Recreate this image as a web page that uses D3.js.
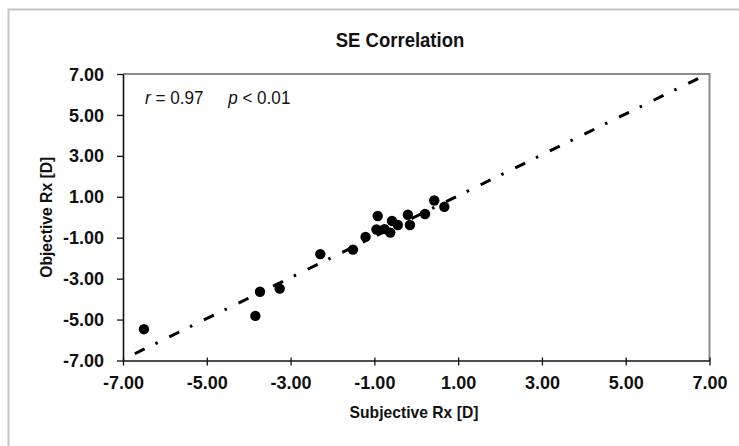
<!DOCTYPE html>
<html>
<head>
<meta charset="utf-8">
<script src="https://cdn.jsdelivr.net/npm/d3@7"></script>
<style>
  html, body { margin: 0; padding: 0; background: #fff; }
  svg { display: block; }
  text { font-family: "Liberation Sans", Arial, sans-serif; fill: #111; }
</style>
</head>
<body>
<svg id="chart" width="739" height="446"></svg>
<script>
// Subjective vs objective spherical equivalent refraction, dioptres
const subjectiveRx = [-6.50, -3.84, -3.73, -3.26, -2.29, -1.51, -1.21, -0.92, -0.95, -0.76, -0.58, -0.62, -0.44, -0.20, -0.15, 0.21, 0.43, 0.67];
const objectiveRx  = [-5.47, -4.82, -3.64, -3.49, -1.80, -1.58, -0.96, 0.06, -0.60, -0.58, -0.18, -0.75, -0.38, 0.12, -0.38, 0.16, 0.82, 0.51];

// Fitted line endpoints (x) and its coefficients
const fitX = [-6.72, 6.86];
const fitSlope = 1.0;
const fitIntercept = 0.05;

const tickValues = [-7, -5, -3, -1, 1, 3, 5, 7];
const titleText = "SE Correlation";
const xTitle = "Subjective Rx [D]";
const yTitle = "Objective Rx [D]";

// slight horizontal squeeze for a narrower typeface look
const SQUEEZE = 0.95;

const svg = d3.select("#chart");
const plot = { left: 123, top: 74, width: 586.5, height: 286.5 };

// outer chart frame
svg.append("rect")
  .attr("x", 8.5).attr("y", 9.5)
  .attr("width", 760).attr("height", 460)
  .attr("fill", "#fff").attr("stroke", "#c4c4c4").attr("stroke-width", 2);

const x = d3.scaleLinear().domain([-7, 7]).range([plot.left, plot.left + plot.width]);
const y = d3.scaleLinear().domain([-7, 7]).range([plot.top + plot.height, plot.top]);

// plot area border (top / right)
svg.append("path")
  .attr("d", `M${x(-7)},${y(7)}H${x(7)}V${y(-7)}`)
  .attr("fill", "none").attr("stroke", "#8a8a8a").attr("stroke-width", 2);

const fmt = d3.formatLocale({ decimal: ".", thousands: ",", grouping: [3], currency: ["", ""], minus: "-" }).format(".2f");

const xAxis = svg.append("g")
  .attr("transform", `translate(0,${y(-7)})`)
  .call(d3.axisBottom(x).tickValues(tickValues).tickFormat(fmt).tickSizeInner(5).tickSizeOuter(0).tickPadding(10));
const yAxis = svg.append("g")
  .attr("transform", `translate(${x(-7)},0)`)
  .call(d3.axisLeft(y).tickValues(tickValues).tickFormat(fmt).tickSizeInner(6).tickSizeOuter(0).tickPadding(6));

[xAxis, yAxis].forEach(g => {
  g.select(".domain").attr("stroke", "#111").attr("stroke-width", 1.6);
  g.selectAll(".tick line").attr("stroke", "#111").attr("stroke-width", 1.3);
  g.selectAll(".tick text")
    .attr("font-size", 19).attr("font-weight", "bold")
    .attr("font-family", "'Liberation Sans', Arial, sans-serif")
    .attr("fill", "#1a1a1a")
    .attr("transform", `scale(${SQUEEZE},1)`);
});
// keep the y labels' right edge at a fixed gap from the axis after squeezing
yAxis.selectAll(".tick text").attr("x", -19 / SQUEEZE);
// the -7.00 x tick sits on the y axis, extend it through
xAxis.selectAll(".tick line").attr("y1", -3);

// fitted line, dash-dot
svg.append("line")
  .attr("x1", x(fitX[0])).attr("y1", y(fitSlope * fitX[0] + fitIntercept))
  .attr("x2", x(fitX[1])).attr("y2", y(fitSlope * fitX[1] + fitIntercept))
  .attr("stroke", "#000").attr("stroke-width", 3)
  .attr("stroke-dasharray", "11,12,2.5,13");

// data points
svg.append("g").selectAll("circle")
  .data(subjectiveRx.map((v, i) => [v, objectiveRx[i]]))
  .join("circle")
  .attr("cx", d => x(d[0])).attr("cy", d => y(d[1]))
  .attr("r", 5.2).attr("fill", "#000");

// squeezed text helper
function label(px, py, size, rotate) {
  return svg.append("text")
    .attr("transform", `translate(${px},${py})${rotate ? " rotate(-90)" : ""} scale(${SQUEEZE},1)`)
    .attr("font-size", size);
}

// title
label(400, 47, 19.5).attr("text-anchor", "middle").attr("font-weight", "bold").text(titleText);

// axis titles
label(414, 418, 16.5).attr("text-anchor", "middle").attr("font-weight", "bold").text(xTitle);
label(52, y(0), 16.5, true).attr("text-anchor", "middle").attr("font-weight", "bold").text(yTitle);

// correlation annotation
const ann = label(145, 104, 18);
ann.append("tspan").attr("font-style", "italic").text("r");
ann.append("tspan").text(" = 0.97");
ann.append("tspan").attr("dx", 26).attr("font-style", "italic").text("p");
ann.append("tspan").text(" < 0.01");
</script>
</body>
</html>
